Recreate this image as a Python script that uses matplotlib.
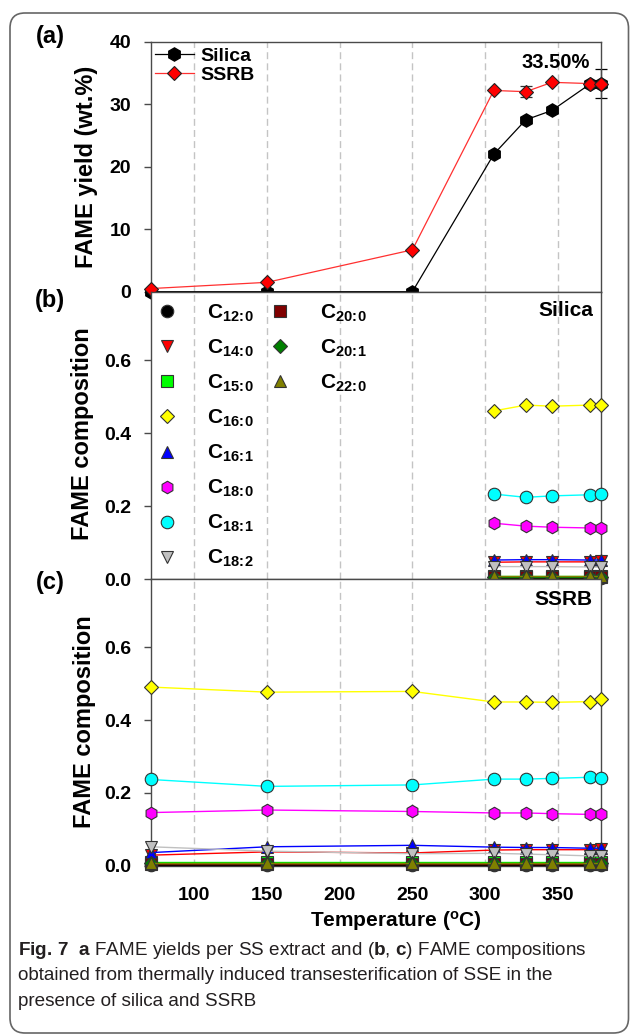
import matplotlib
matplotlib.use('Agg')
import matplotlib.pyplot as plt
from matplotlib.lines import Line2D
from matplotlib.patches import FancyBboxPatch

# ---- data ----
temps = [70, 150, 250, 306, 328, 346, 372, 380]
temps_silica = [306, 328, 346, 372, 380]

silica_yield = [0.0, 0.0, 0.0, 22.0, 27.5, 29.0, 33.2, 33.3]
silica_err = [0, 0, 0, 0, 0, 0, 0, 2.35]
ssrb_yield = [0.5, 1.5, 6.7, 32.2, 32.0, 33.5, 33.3, 33.3]
ssrb_err = [0, 0, 0, 0, 0.9, 0, 0, 0]

acids = ['12:0', '14:0', '15:0', '16:0', '16:1', '18:0', '18:1', '18:2',
         '20:0', '20:1', '22:0']

# silica (panel b), one list per FAME
si_c12_0 = [0.003, 0.003, 0.003, 0.003, 0.003]
si_c14_0 = [0.046, 0.047, 0.047, 0.047, 0.048]
si_c15_0 = [0.009, 0.009, 0.009, 0.009, 0.009]
si_c16_0 = [0.461, 0.477, 0.474, 0.477, 0.477]
si_c16_1 = [0.052, 0.053, 0.053, 0.052, 0.052]
si_c18_0 = [0.153, 0.145, 0.142, 0.140, 0.140]
si_c18_1 = [0.233, 0.224, 0.228, 0.231, 0.232]
si_c18_2 = [0.034, 0.034, 0.034, 0.033, 0.033]
si_c20_0 = [0.005, 0.005, 0.005, 0.005, 0.005]
si_c20_1 = [0.006, 0.006, 0.006, 0.006, 0.006]
si_c22_0 = [0.007, 0.007, 0.007, 0.007, 0.007]

# SSRB (panel c)
ss_c12_0 = [0.003, 0.003, 0.003, 0.003, 0.003, 0.003, 0.003, 0.003]
ss_c14_0 = [0.029, 0.038, 0.035, 0.043, 0.044, 0.044, 0.044, 0.045]
ss_c15_0 = [0.010, 0.010, 0.010, 0.010, 0.010, 0.010, 0.010, 0.010]
ss_c16_0 = [0.491, 0.477, 0.479, 0.450, 0.450, 0.449, 0.451, 0.459]
ss_c16_1 = [0.036, 0.052, 0.056, 0.051, 0.050, 0.050, 0.048, 0.048]
ss_c18_0 = [0.146, 0.153, 0.149, 0.145, 0.145, 0.143, 0.141, 0.143]
ss_c18_1 = [0.237, 0.218, 0.222, 0.238, 0.238, 0.240, 0.243, 0.242]
ss_c18_2 = [0.052, 0.040, 0.033, 0.034, 0.032, 0.030, 0.027, 0.027]
ss_c20_0 = [0.005, 0.005, 0.005, 0.005, 0.005, 0.005, 0.005, 0.005]
ss_c20_1 = [0.007, 0.007, 0.007, 0.007, 0.007, 0.007, 0.007, 0.007]
ss_c22_0 = [0.007, 0.007, 0.007, 0.007, 0.007, 0.007, 0.007, 0.007]

silica_comp = [si_c12_0, si_c14_0, si_c15_0, si_c16_0, si_c16_1, si_c18_0,
               si_c18_1, si_c18_2, si_c20_0, si_c20_1, si_c22_0]
ssrb_comp = [ss_c12_0, ss_c14_0, ss_c15_0, ss_c16_0, ss_c16_1, ss_c18_0,
             ss_c18_1, ss_c18_2, ss_c20_0, ss_c20_1, ss_c22_0]

# ---- styles ----
face = ['#000000', '#ff0000', '#00ff00', '#ffff00', '#0000ff', '#ff00ff',
        '#00ffff', '#c0c0c0', '#800000', '#008000', '#808000']
mk = ['o', 'v', 's', 'D', '^', 'h', 'o', 'v', 's', 'D', '^']
msz = {'o': 9, 'v': 8.5, 's': 8, 'D': 7, '^': 8.5, 'h': 9}

plt.rcParams['font.family'] = ['Liberation Sans', 'DejaVu Sans']
plt.rcParams['font.weight'] = 'bold'
plt.rcParams['axes.labelweight'] = 'bold'
plt.rcParams['mathtext.fontset'] = 'custom'
plt.rcParams['mathtext.rm'] = 'Liberation Sans:bold'
plt.rcParams['mathtext.it'] = 'Liberation Sans:bold'
plt.rcParams['mathtext.bf'] = 'Liberation Sans:bold'

W_PX, H_PX = 630, 1035
fig = plt.figure(figsize=(6.3, 10.35), dpi=100)

L = 150.7 / W_PX
W = 450.7 / W_PX
ax_a = fig.add_axes([L, 1 - 291.7 / H_PX, W, 250.0 / H_PX])
ax_b = fig.add_axes([L, 1 - 579.0 / H_PX, W, 287.3 / H_PX])
ax_c = fig.add_axes([L, 1 - 865.7 / H_PX, W, 286.7 / H_PX])

spine_col = '#4a4a4a'
for ax in (ax_a, ax_b, ax_c):
    ax.set_xlim(70, 380)
    ax.set_xticks([100, 150, 200, 250, 300, 350])
    ax.grid(axis='x', color='#c4c4c4', linestyle=(0, (5, 3)), linewidth=1.0)
    ax.set_axisbelow(True)
    for s in ax.spines.values():
        s.set_color(spine_col)
        s.set_linewidth(1.0)
    ax.tick_params(axis='y', direction='out', length=5, width=1, pad=9,
                   labelsize=14, color=spine_col)
    ax.tick_params(axis='x', length=0, labelbottom=False, labelsize=14, pad=15)
ax_c.tick_params(axis='x', labelbottom=True)

# ---- panel (a) ----
ax_a.set_ylim(0, 40)
ax_a.set_yticks([0, 10, 20, 30, 40])
h_si, = ax_a.plot(temps, silica_yield, color='black', lw=0.9, marker='h', ms=9.5,
                  mfc='black', mec='black', clip_on=False, zorder=3, label='Silica')
h_ss, = ax_a.plot(temps, ssrb_yield, color='#ff3030', lw=0.9, marker='D', ms=7.5,
                  mfc='#ff0000', mec='#222222', mew=0.8, clip_on=False, zorder=4,
                  label='SSRB')
for t, y, e in zip(temps, silica_yield, silica_err):
    if e > 0:
        ax_a.errorbar(t, y, yerr=e, fmt='none', ecolor='black', elinewidth=0.9,
                      capsize=4, capthick=0.9, clip_on=False, zorder=2)
for t, y, e in zip(temps, ssrb_yield, ssrb_err):
    if e > 0:
        ax_a.errorbar(t, y, yerr=e, fmt='none', ecolor='#333333', elinewidth=0.9,
                      capsize=4, capthick=0.9, clip_on=False, zorder=2)
ax_a.legend(handles=[h_si, h_ss], loc='upper left', bbox_to_anchor=(0.0095, 0.979),
            borderaxespad=0, borderpad=0, frameon=False, handlelength=2.0,
            handletextpad=0.35, labelspacing=0.1, fontsize=14)
ax_a.text(0.899, 0.915, '33.50%', transform=ax_a.transAxes, ha='center',
          va='center', fontsize=14.5)
ax_a.set_ylabel('FAME yield (wt.%)', fontsize=17, va='center')
ax_a.yaxis.set_label_coords((86 - 150.7) / 450.7, 0.499)


def comp_panel(ax, x, series, tag, tag_y):
    ax.set_ylim(0, 0.788)
    ax.set_yticks([0.0, 0.2, 0.4, 0.6])
    ax.set_yticklabels(['0.0', '0.2', '0.4', '0.6'])
    for vals, fc, m in zip(series, face, mk):
        ax.plot(x, vals, color=fc, lw=1.0, marker=m, ms=msz[m], mfc=fc,
                mec='#333333', mew=0.8, clip_on=False, zorder=3)
    ax.text(0.981, tag_y, tag, transform=ax.transAxes, ha='right', va='center',
            fontsize=15)
    ax.set_ylabel('FAME composition', fontsize=17, va='center')


comp_panel(ax_b, temps_silica, silica_comp, 'Silica', 0.936)
ax_b.yaxis.set_label_coords((82.5 - 150.7) / 450.7, 0.505)
comp_panel(ax_c, temps, ssrb_comp, 'SSRB', 0.927)
ax_c.yaxis.set_label_coords((84 - 150.7) / 450.7, 0.501)

# legend of panel (b), two columns
proxies = [Line2D([], [], linestyle='none', marker=m, ms=msz[m], mfc=fc,
                  mec='#333333', mew=0.8) for fc, m in zip(face, mk)]
labels = ['C$_{%s}$' % a.replace(':', r'\!:\!') for a in acids]
leg_kw = dict(loc='upper left', borderaxespad=0, borderpad=0, frameon=False,
              handlelength=1.0, handletextpad=1.42, labelspacing=0.66, fontsize=15)
leg1 = ax_b.legend(proxies[:8], labels[:8], bbox_to_anchor=(0.0124, 0.962), **leg_kw)
ax_b.add_artist(leg1)
ax_b.legend(proxies[8:], labels[8:], bbox_to_anchor=(0.2638, 0.962), **leg_kw)

ax_c.set_xlabel('Temperature ($^{o}$C)', fontsize=15, va='center')
ax_c.xaxis.set_label_coords(0.544, (865.7 - 921) / 286.7)

# panel letters
for lab, yc in (('(a)', 37), ('(b)', 300), ('(c)', 582)):
    fig.text(50 / W_PX, 1 - yc / H_PX, lab, ha='center', va='center', fontsize=17)

# caption
cap = [r'$\mathbf{Fig.\,7}$  $\mathbf{a}$ FAME yields per SS extract and '
       r'($\mathbf{b}$, $\mathbf{c}$) FAME compositions',
       'obtained from thermally induced transesterification of SSE in the',
       'presence of silica and SSRB']
for line, yb in zip(cap, (955, 980.5, 1006)):
    fig.text(18 / W_PX, 1 - yb / H_PX, line, ha='left', va='baseline',
             fontsize=13.6, fontweight='normal', color='#231f20')

# outer rounded frame
fig.patches.append(FancyBboxPatch((0.10, 0.02), 6.185, 10.20,
                                  boxstyle='round,pad=0,rounding_size=0.15',
                                  transform=fig.dpi_scale_trans, fill=False,
                                  edgecolor='#666666', linewidth=1.2))

fig.savefig('out.png', dpi=100)
